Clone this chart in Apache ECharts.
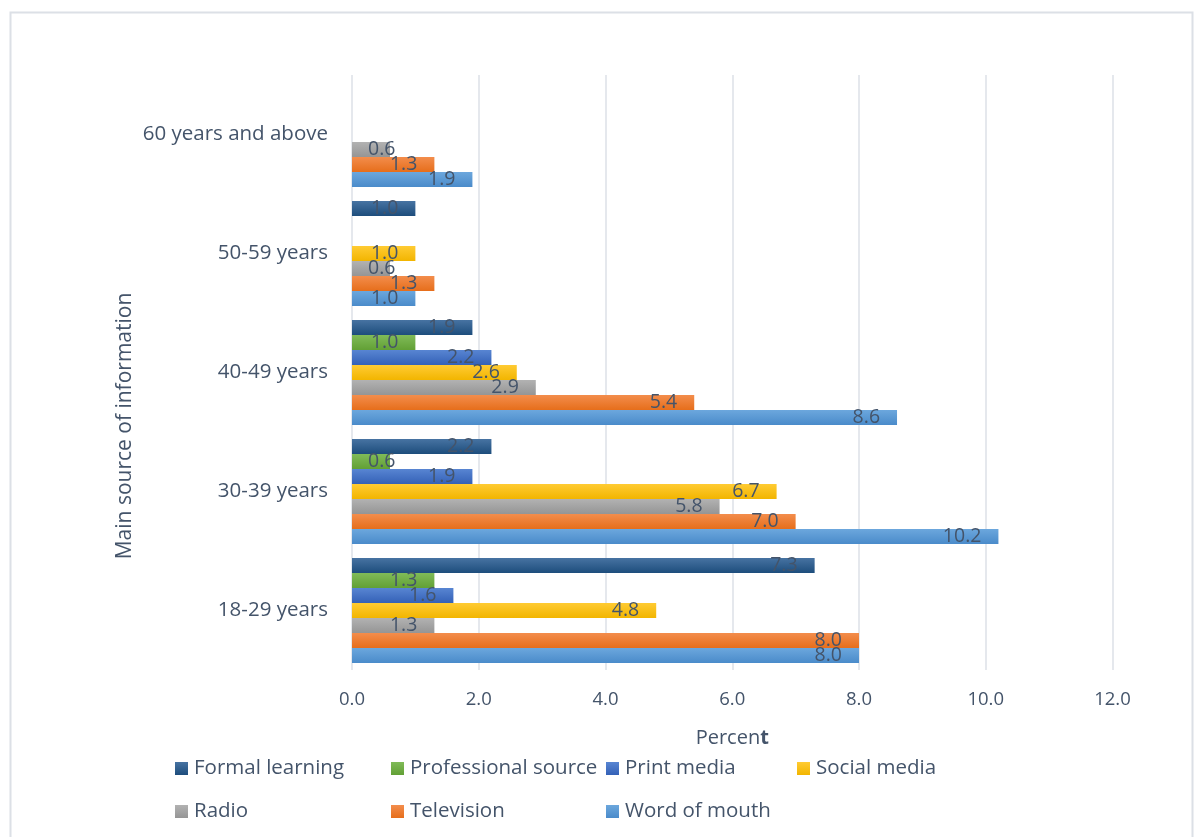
<!DOCTYPE html>
<html>
<head>
<meta charset="utf-8">
<script src="https://cdn.jsdelivr.net/npm/echarts@6/dist/echarts.min.js"></script>
<style>
  html, body { margin: 0; padding: 0; background: #fff; }
  #chart { width: 1195px; height: 837px; }
</style>
</head>
<body>
<div id="chart"></div>
<script>
// Age groups, bottom to top on the category axis
const ageGroups = ['18-29 years', '30-39 years', '40-49 years', '50-59 years', '60 years and above'];

// Percent of respondents per main source of information
const wordOfMouth    = [8.0, 10.2, 8.6, 1.0, 1.9];
const television     = [8.0, 7.0, 5.4, 1.3, 1.3];
const radio          = [1.3, 5.8, 2.9, 0.6, 0.6];
const socialMedia    = [4.8, 6.7, 2.6, 1.0, null];
const printMedia     = [1.6, 1.9, 2.2, null, null];
const professional   = [1.3, 0.6, 1.0, null, null];
const formalLearning = [7.3, 2.2, 1.9, 1.0, null];

const xTicks = { min: 0, max: 12, interval: 2 };

// Series listed top-to-bottom inside each group
const seriesDefs = [
  { name: 'Formal learning', data: formalLearning, top: '#4773A2', bottom: '#1D4D7C' },
  { name: 'Professional source', data: professional, top: '#80BB58', bottom: '#62A035' },
  { name: 'Print media', data: printMedia, top: '#5885D2', bottom: '#3461B7' },
  { name: 'Social media', data: socialMedia, top: '#FFCB33', bottom: '#F2B500' },
  { name: 'Radio', data: radio, top: '#B2B2B2', bottom: '#959595' },
  { name: 'Television', data: television, top: '#F38D4C', bottom: '#E66E1B' },
  { name: 'Word of mouth', data: wordOfMouth, top: '#6CA7DD', bottom: '#4A8BCA' }
];

const textColor = '#44546A';
const fontFamily = '"Open Sans", "Noto Sans", sans-serif';

function grad(top, bottom) {
  return new echarts.graphic.LinearGradient(0, 0, 0, 1, [
    { offset: 0, color: top },
    { offset: 1, color: bottom }
  ]);
}

const series = seriesDefs.map(s => ({
  name: s.name,
  type: 'bar',
  barWidth: 15,
  barGap: '0%',
  barCategoryGap: '11.8%',
  itemStyle: { color: grad(s.top, s.bottom) },
  label: {
    show: true,
    position: 'insideRight',
    distance: 17,
    color: textColor,
    fontFamily: fontFamily,
    fontSize: 19.5,
    formatter: p => p.value.toFixed(1)
  },
  // short bars keep their label pinned near the axis
  data: s.data.map(v => (v != null && v < 1.0)
    ? { value: v, label: { position: 'insideLeft', distance: 16 } }
    : v)
}));

// Legend laid out in two rows of fixed slots
const legendSlots = [
  ['Formal learning', 170, 753], ['Professional source', 386, 753],
  ['Print media', 601, 753], ['Social media', 792, 753],
  ['Radio', 170, 796], ['Television', 386, 796], ['Word of mouth', 601, 796]
];
const legends = legendSlots.map(([name, left, top]) => ({
  data: [name],
  left: left,
  top: top,
  icon: 'rect',
  itemWidth: 13,
  itemHeight: 13,
  itemGap: 0,
  selectedMode: false,
  textStyle: { color: textColor, fontFamily: fontFamily, fontSize: 20.5, padding: [0, 0, 0, 1] }
}));

const chart = echarts.init(document.getElementById('chart'), null, { renderer: 'canvas' });
chart.setOption({
  backgroundColor: '#ffffff',
  animation: false,
  grid: { left: 352, right: 82.5, top: 75, bottom: 167, containLabel: false },
  legend: legends,
  xAxis: {
    type: 'value',
    min: xTicks.min,
    max: xTicks.max,
    interval: xTicks.interval,
    axisLine: { show: false },
    axisTick: { show: false },
    splitLine: { show: true, lineStyle: { color: '#DDE1E7', width: 1.5 } },
    axisLabel: {
      color: textColor, fontFamily: fontFamily, fontSize: 18.5, margin: 20,
      formatter: v => v.toFixed(1)
    },
    name: '{a|Percen}{b|t}',
    nameLocation: 'middle',
    nameGap: 58,
    nameTextStyle: {
      rich: {
        a: { color: textColor, fontFamily: fontFamily, fontSize: 20 },
        b: { color: textColor, fontFamily: fontFamily, fontSize: 20, fontWeight: 'bold' }
      }
    }
  },
  yAxis: {
    type: 'category',
    data: ageGroups,
    axisLine: { show: false },
    axisTick: { show: false },
    splitLine: { show: false },
    axisLabel: { color: textColor, fontFamily: fontFamily, fontSize: 20.5, margin: 24 }
  },
  graphic: [
    {
      type: 'rect',
      left: 8, top: 10,
      shape: { width: 1182, height: 840 },
      style: { fill: 'none', stroke: '#DCE0E6', lineWidth: 2 },
      silent: true
    },
    {
      type: 'text',
      x: 125, y: 426,
      rotation: Math.PI / 2,
      style: {
        text: 'Main source of information',
        fill: textColor,
        font: '21px "Open Sans", sans-serif',
        align: 'center',
        verticalAlign: 'middle'
      }
    }
  ],
  series: series
});
</script>
</body>
</html>
